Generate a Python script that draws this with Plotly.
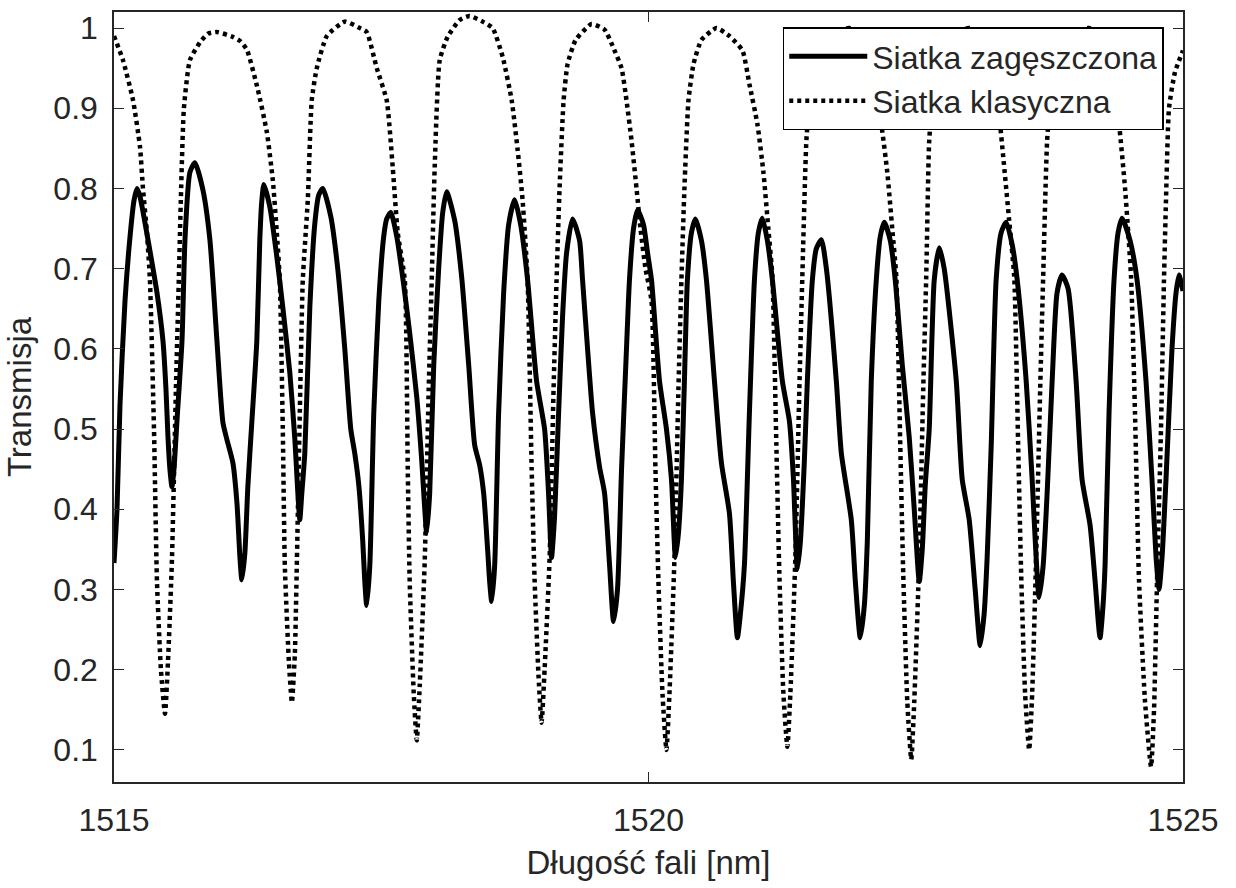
import plotly.graph_objects as go

# --- Siatka zagęszczona (solid) ---
wl_zag = [1515.000, 1515.028, 1515.056, 1515.103, 1515.150, 1515.187, 1515.215, 1515.243, 1515.318, 1515.402,
          1515.458, 1515.486, 1515.505, 1515.523, 1515.542, 1515.561, 1515.589, 1515.636, 1515.664, 1515.710,
          1515.757, 1515.832, 1515.897, 1515.963, 1516.019, 1516.056, 1516.112, 1516.150, 1516.178, 1516.196,
          1516.224, 1516.252, 1516.290, 1516.336, 1516.364, 1516.383, 1516.402, 1516.458, 1516.523, 1516.579,
          1516.645, 1516.692, 1516.720, 1516.738, 1516.757, 1516.785, 1516.832, 1516.879, 1516.916, 1516.953,
          1517.028, 1517.093, 1517.159, 1517.215, 1517.252, 1517.290, 1517.327, 1517.346, 1517.364, 1517.393,
          1517.430, 1517.477, 1517.523, 1517.551, 1517.589, 1517.645, 1517.710, 1517.766, 1517.832, 1517.879,
          1517.907, 1517.925, 1517.953, 1517.991, 1518.037, 1518.075, 1518.112, 1518.187, 1518.252, 1518.318,
          1518.374, 1518.421, 1518.458, 1518.495, 1518.514, 1518.533, 1518.561, 1518.598, 1518.645, 1518.692,
          1518.748, 1518.804, 1518.869, 1518.953, 1519.028, 1519.065, 1519.093, 1519.121, 1519.159, 1519.196,
          1519.234, 1519.290, 1519.355, 1519.383, 1519.430, 1519.477, 1519.542, 1519.589, 1519.636, 1519.673,
          1519.710, 1519.748, 1519.794, 1519.822, 1519.860, 1519.897, 1519.953, 1519.991, 1520.028, 1520.103,
          1520.168, 1520.215, 1520.252, 1520.280, 1520.308, 1520.336, 1520.364, 1520.402, 1520.439, 1520.495,
          1520.542, 1520.617, 1520.682, 1520.757, 1520.794, 1520.832, 1520.860, 1520.897, 1520.944, 1520.991,
          1521.028, 1521.065, 1521.112, 1521.159, 1521.252, 1521.318, 1521.355, 1521.393, 1521.421, 1521.458,
          1521.486, 1521.533, 1521.570, 1521.617, 1521.664, 1521.757, 1521.804, 1521.897, 1521.935, 1521.981,
          1522.019, 1522.047, 1522.084, 1522.131, 1522.168, 1522.206, 1522.262, 1522.308, 1522.374, 1522.439,
          1522.486, 1522.533, 1522.561, 1522.589, 1522.626, 1522.673, 1522.720, 1522.766, 1522.879, 1522.935,
          1523.000, 1523.056, 1523.103, 1523.140, 1523.168, 1523.206, 1523.252, 1523.299, 1523.346, 1523.402,
          1523.449, 1523.533, 1523.589, 1523.626, 1523.654, 1523.692, 1523.729, 1523.776, 1523.822, 1523.869,
          1523.925, 1524.000, 1524.056, 1524.131, 1524.178, 1524.224, 1524.252, 1524.271, 1524.308, 1524.355,
          1524.393, 1524.430, 1524.505, 1524.570, 1524.654, 1524.710, 1524.748, 1524.776, 1524.804, 1524.841,
          1524.897, 1524.935, 1524.963, 1525.000]
tr_zag = [0.333, 0.400, 0.530, 0.660, 0.740, 0.785, 0.800, 0.790, 0.736, 0.670,
          0.610, 0.550, 0.490, 0.450, 0.428, 0.450, 0.510, 0.610, 0.736, 0.820,
          0.832, 0.798, 0.736, 0.610, 0.508, 0.487, 0.458, 0.408, 0.340, 0.312,
          0.345, 0.428, 0.510, 0.610, 0.736, 0.785, 0.805, 0.777, 0.715, 0.652,
          0.570, 0.487, 0.420, 0.387, 0.420, 0.470, 0.652, 0.757, 0.792, 0.800,
          0.765, 0.700, 0.600, 0.500, 0.470, 0.430, 0.360, 0.310, 0.280, 0.330,
          0.520, 0.660, 0.740, 0.762, 0.770, 0.740, 0.680, 0.620, 0.540, 0.460,
          0.400, 0.370, 0.420, 0.580, 0.700, 0.770, 0.796, 0.760, 0.690, 0.580,
          0.480, 0.455, 0.420, 0.350, 0.310, 0.285, 0.330, 0.520, 0.670, 0.755,
          0.786, 0.755, 0.686, 0.560, 0.500, 0.420, 0.340, 0.390, 0.520, 0.640,
          0.720, 0.762, 0.735, 0.686, 0.600, 0.520, 0.453, 0.420, 0.330, 0.260,
          0.300, 0.450, 0.600, 0.686, 0.750, 0.773, 0.755, 0.720, 0.686, 0.560,
          0.500, 0.437, 0.340, 0.370, 0.437, 0.560, 0.686, 0.745, 0.762, 0.735,
          0.686, 0.560, 0.458, 0.395, 0.310, 0.240, 0.270, 0.330, 0.520, 0.686,
          0.745, 0.763, 0.735, 0.686, 0.560, 0.510, 0.440, 0.325, 0.360, 0.460,
          0.560, 0.686, 0.725, 0.736, 0.700, 0.560, 0.470, 0.387, 0.310, 0.240,
          0.280, 0.360, 0.560, 0.686, 0.740, 0.758, 0.735, 0.686, 0.580, 0.490,
          0.400, 0.310, 0.350, 0.430, 0.500, 0.686, 0.726, 0.700, 0.560, 0.437,
          0.387, 0.300, 0.230, 0.270, 0.340, 0.480, 0.686, 0.745, 0.758, 0.730,
          0.686, 0.560, 0.437, 0.340, 0.290, 0.330, 0.420, 0.560, 0.670, 0.692,
          0.675, 0.560, 0.437, 0.380, 0.310, 0.240, 0.280, 0.330, 0.520, 0.686,
          0.745, 0.763, 0.735, 0.686, 0.560, 0.437, 0.340, 0.300, 0.340, 0.437,
          0.600, 0.670, 0.692, 0.672]

# --- Siatka klasyczna (dotted) ---
wl_kl = [1515.000, 1515.084, 1515.178, 1515.243, 1515.271, 1515.308, 1515.336, 1515.374, 1515.402, 1515.439,
         1515.477, 1515.505, 1515.542, 1515.579, 1515.607, 1515.626, 1515.654, 1515.710, 1515.804, 1515.879,
         1515.963, 1516.112, 1516.178, 1516.243, 1516.346, 1516.430, 1516.486, 1516.523, 1516.551, 1516.579,
         1516.598, 1516.636, 1516.664, 1516.692, 1516.710, 1516.738, 1516.766, 1516.813, 1516.850, 1516.897,
         1516.991, 1517.159, 1517.299, 1517.364, 1517.458, 1517.551, 1517.607, 1517.654, 1517.720, 1517.748,
         1517.766, 1517.804, 1517.832, 1517.860, 1517.907, 1517.944, 1517.972, 1518.000, 1518.047, 1518.121,
         1518.234, 1518.327, 1518.449, 1518.542, 1518.636, 1518.720, 1518.776, 1518.822, 1518.869, 1518.907,
         1518.935, 1518.972, 1519.000, 1519.028, 1519.075, 1519.112, 1519.140, 1519.168, 1519.206, 1519.243,
         1519.318, 1519.467, 1519.589, 1519.673, 1519.748, 1519.794, 1519.841, 1519.888, 1519.925, 1519.972,
         1520.028, 1520.065, 1520.093, 1520.131, 1520.168, 1520.196, 1520.243, 1520.280, 1520.308, 1520.336,
         1520.374, 1520.421, 1520.495, 1520.636, 1520.757, 1520.879, 1520.944, 1521.019, 1521.075, 1521.121,
         1521.159, 1521.196, 1521.224, 1521.262, 1521.299, 1521.327, 1521.374, 1521.411, 1521.439, 1521.477,
         1521.514, 1521.561, 1521.636, 1521.879, 1522.037, 1522.103, 1522.178, 1522.234, 1522.280, 1522.318,
         1522.355, 1522.383, 1522.421, 1522.458, 1522.486, 1522.533, 1522.570, 1522.598, 1522.626, 1522.664,
         1522.710, 1522.785, 1523.000, 1523.140, 1523.206, 1523.280, 1523.318, 1523.374, 1523.421, 1523.458,
         1523.486, 1523.523, 1523.561, 1523.589, 1523.626, 1523.664, 1523.692, 1523.729, 1523.766, 1523.813,
         1523.888, 1524.121, 1524.280, 1524.346, 1524.402, 1524.458, 1524.514, 1524.551, 1524.589, 1524.645,
         1524.701, 1524.729, 1524.757, 1524.794, 1524.822, 1524.841, 1524.869, 1524.925, 1525.000]
tr_kl = [0.990, 0.960, 0.910, 0.852, 0.800, 0.745, 0.686, 0.500, 0.310, 0.200,
         0.145, 0.210, 0.337, 0.550, 0.690, 0.790, 0.900, 0.960, 0.982, 0.993,
         0.995, 0.989, 0.984, 0.973, 0.923, 0.870, 0.810, 0.745, 0.686, 0.500,
         0.330, 0.210, 0.159, 0.220, 0.330, 0.520, 0.686, 0.786, 0.910, 0.950,
         0.990, 1.008, 1.000, 0.995, 0.950, 0.910, 0.827, 0.745, 0.686, 0.450,
         0.310, 0.170, 0.112, 0.180, 0.337, 0.550, 0.686, 0.827, 0.960, 0.989,
         1.010, 1.015, 1.008, 1.000, 0.964, 0.910, 0.848, 0.786, 0.686, 0.450,
         0.310, 0.190, 0.134, 0.200, 0.340, 0.550, 0.686, 0.800, 0.910, 0.955,
         0.985, 1.005, 0.998, 0.975, 0.950, 0.910, 0.860, 0.800, 0.750, 0.700,
         0.660, 0.450, 0.310, 0.170, 0.100, 0.170, 0.340, 0.550, 0.686, 0.800,
         0.910, 0.955, 0.985, 1.000, 0.990, 0.972, 0.930, 0.880, 0.820, 0.750,
         0.690, 0.480, 0.320, 0.170, 0.104, 0.170, 0.340, 0.550, 0.690, 0.860,
         0.920, 0.960, 0.985, 1.000, 0.975, 0.940, 0.880, 0.820, 0.750, 0.690,
         0.480, 0.320, 0.160, 0.088, 0.160, 0.340, 0.550, 0.690, 0.860, 0.920,
         0.960, 0.985, 1.000, 0.975, 0.940, 0.890, 0.840, 0.760, 0.690, 0.480,
         0.320, 0.170, 0.100, 0.170, 0.340, 0.550, 0.690, 0.860, 0.920, 0.960,
         0.985, 1.000, 0.970, 0.930, 0.880, 0.800, 0.690, 0.520, 0.310, 0.160,
         0.079, 0.150, 0.310, 0.500, 0.686, 0.786, 0.900, 0.945, 0.972]

x_ticks = [1515, 1520, 1525]
y_ticks = [0.1, 0.2, 0.3, 0.4, 0.5, 0.6, 0.7, 0.8, 0.9, 1.0]
y_tick_labels = ["0.1", "0.2", "0.3", "0.4", "0.5", "0.6", "0.7", "0.8", "0.9", "1"]

FONT = "Liberation Sans, Arial, sans-serif"
TXT = "#262626"

fig = go.Figure()
fig.add_trace(go.Scatter(
    x=wl_zag, y=tr_zag, mode="lines", name="Siatka zagęszczona",
    line=dict(color="black", width=5, shape="spline", smoothing=0.6),
))
fig.add_trace(go.Scatter(
    x=wl_kl, y=tr_kl, mode="lines", name="Siatka klasyczna",
    line=dict(color="black", width=4.5, dash="4px,4px", shape="spline", smoothing=0.5),
))

axis_common = dict(
    showline=True, linecolor="#262626", linewidth=1.5, mirror="ticks",
    ticks="inside", ticklen=10, tickwidth=1, tickcolor="#262626",
    showgrid=False, zeroline=False,
    tickfont=dict(family=FONT, size=32, color=TXT),
)

fig.update_layout(
    width=1236, height=888,
    margin=dict(l=114, r=53, t=10, b=106),
    paper_bgcolor="white", plot_bgcolor="white",
    font=dict(family=FONT, color=TXT),
    xaxis=dict(range=[1515, 1525], tickvals=x_ticks, ticktext=[str(v) for v in x_ticks],
               title=dict(text="Długość fali [nm]", font=dict(family=FONT, size=33, color=TXT), standoff=14),
               ticklabelstandoff=9, **axis_common),
    yaxis=dict(range=[0.06, 1.02], tickvals=y_ticks, ticktext=y_tick_labels,
               title=dict(text="Transmisja", font=dict(family=FONT, size=33, color=TXT), standoff=12),
               ticklabelstandoff=8, **axis_common),
    legend=dict(x=0.982, y=0.98, xanchor="right", yanchor="top",
                bgcolor="white", bordercolor="black", borderwidth=1.5,
                font=dict(family=FONT, size=32, color=TXT),
                itemwidth=78, tracegroupgap=0),
    showlegend=True,
)

fig.write_html("out.html")
